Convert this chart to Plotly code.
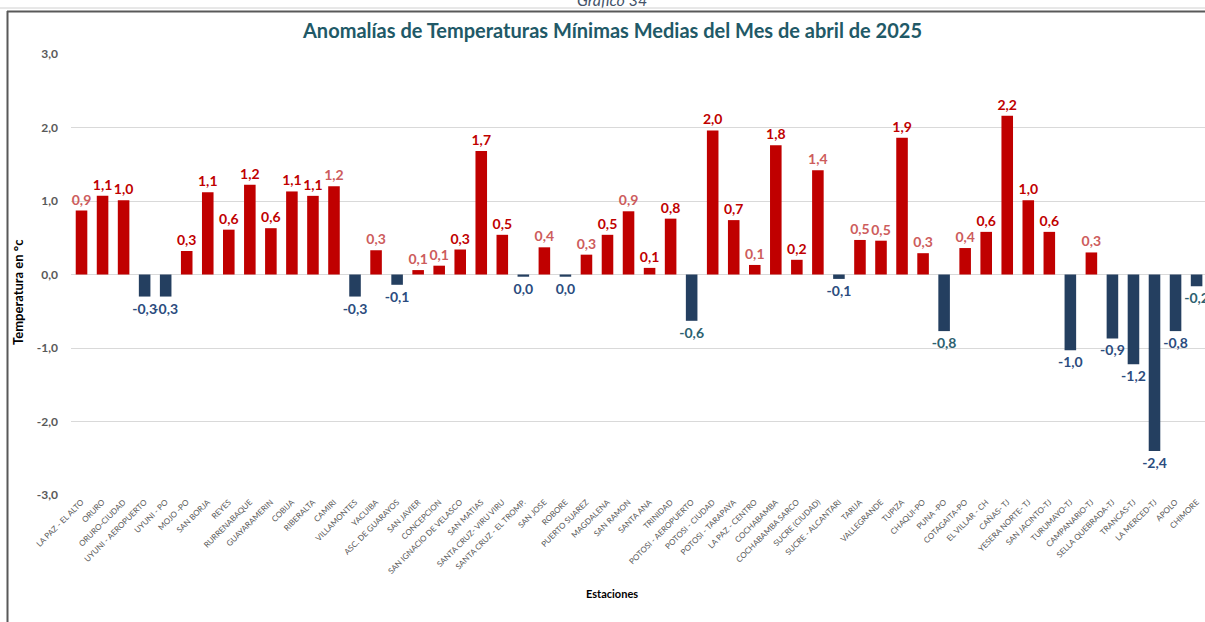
import plotly.graph_objects as go

# Estaciones y anomalías de temperatura mínima media (°C), abril 2025
estaciones = [
    "LA PAZ - EL ALTO", "ORURO", "ORURO-CIUDAD", "UYUNI - AEROPUERTO", "UYUNI - PO",
    "MOJO -PO", "SAN BORJA", "REYES", "RURRENABAQUE", "GUAYARAMERIN", "COBIJA",
    "RIBERALTA", "CAMIRI", "VILLAMONTES", "YACUIBA", "ASC. DE GUARAYOS", "SAN JAVIER",
    "CONCEPCION", "SAN IGNACIO DE VELASCO", "SAN MATIAS", "SANTA CRUZ- VIRU VIRU",
    "SANTA CRUZ - EL TROMP.", "SAN JOSE", "ROBORE", "PUERTO SUAREZ", "MAGDALENA",
    "SAN RAMON", "SANTA ANA", "TRINIDAD", "POTOSI - AEROPUERTO", "POTOSI - CIUDAD",
    "POTOSI - TARAPAYA", "LA PAZ - CENTRO", "COCHABAMBA", "COCHABAMBA SARCO",
    "SUCRE (CIUDAD)", "SUCRE - ALCANTARI", "TARIJA", "VALLEGRANDE", "TUPIZA",
    "CHAQUI-PO", "PUNA -PO", "COTAGAITA-PO", "EL VILLAR - CH", "CAÑAS- TJ",
    "YESERA NORTE- TJ", "SAN JACINTO-TJ", "TURUMAYO-TJ", "CAMPANARIO-TJ",
    "SELLA QUEBRADA-TJ", "TRANCAS-TJ", "LA MERCED-TJ", "APOLO", "CHIMORE",
]

anomalias = [
    0.87, 1.07, 1.01, -0.30, -0.30, 0.32, 1.12, 0.61, 1.22, 0.63, 1.13,
    1.07, 1.20, -0.30, 0.33, -0.14, 0.06, 0.12, 0.34, 1.68, 0.54,
    -0.03, 0.37, -0.03, 0.27, 0.54, 0.86, 0.09, 0.76, -0.63, 1.96,
    0.74, 0.13, 1.76, 0.20, 1.42, -0.06, 0.47, 0.46, 1.86,
    0.29, -0.77, 0.36, 0.58, 2.16, 1.01, 0.58, -1.03, 0.30,
    -0.87, -1.22, -2.40, -0.77, -0.16,
]

y_ticks = [3, 2, 1, 0, -1, -2, -3]
y_tick_text = ["3,0", "2,0", "1,0", "0,0", "-1,0", "-2,0", "-3,0"]

# estilos de etiqueta: 0 = rojo intenso, 1 = rojo claro, 2 = azul marino, 3 = azul verdoso
estilo_etiqueta = [
    1, 0, 0, 2, 2, 0, 0, 0, 0, 0, 0,
    0, 1, 2, 1, 2, 1, 1, 0, 0, 0,
    2, 1, 2, 1, 0, 1, 0, 0, 3, 0,
    0, 1, 0, 0, 1, 2, 1, 1, 0,
    1, 3, 1, 0, 0, 0, 0, 2, 1,
    2, 2, 2, 2, 3,
]
paleta_etiqueta = ["#C00000", "#CD5C5C", "#2B4C7E", "#2D6170"]


def fmt(v):
    s = f"{v:.1f}".replace(".", ",")
    return "0,0" if s == "-0,0" else s


textos = [fmt(v) for v in anomalias]
colores_barra = ["#C00000" if v >= 0 else "#243F60" for v in anomalias]
colores_texto = [paleta_etiqueta[e] for e in estilo_etiqueta]

W, H = 1205, 622
L, R, T, B = 71, 0, 54, 127
pw, ph = W - L - R, H - T - B


def px_x(x):
    return (x - L) / pw


def px_y(y):
    return (H - B - y) / ph


fig = go.Figure(
    go.Bar(
        x=list(range(len(estaciones))),
        y=anomalias,
        marker=dict(color=colores_barra, line=dict(width=0)),
        text=textos,
        textposition="outside",
        constraintext="none",
        textfont=dict(family="Lato", size=14, color=colores_texto, weight="bold"),
        cliponaxis=False,
        width=0.55,
        hoverinfo="skip",
    )
)

fig.update_layout(
    width=W,
    height=H,
    margin=dict(l=L, r=R, t=T, b=B),
    paper_bgcolor="white",
    plot_bgcolor="white",
    showlegend=False,
    font=dict(family="Lato"),
    xaxis=dict(
        tickmode="array",
        tickvals=list(range(len(estaciones))),
        ticktext=estaciones,
        tickangle=-45,
        tickfont=dict(family="Lato", size=8, color="#595959"),
        range=[-0.5, len(estaciones) - 0.6],
        showgrid=False,
        zeroline=False,
        showline=False,
        ticks="",
        fixedrange=True,
    ),
    yaxis=dict(
        range=[-3, 3],
        tickmode="array",
        tickvals=y_ticks,
        ticktext=y_tick_text,
        tickfont=dict(family="Lato", size=12, color="#595959", weight="bold"),
        showgrid=True,
        gridcolor="#D9D9D9",
        gridwidth=1,
        zeroline=False,
        showline=False,
        ticks="",
        ticklabelstandoff=12,
        fixedrange=True,
    ),
    annotations=[
        dict(
            text="<b>Anomalías de Temperaturas Mínimas Medias del Mes de abril de 2025</b>",
            xref="paper", yref="paper", x=px_x(612), y=px_y(30),
            xanchor="center", yanchor="middle", showarrow=False,
            font=dict(family="Lato", size=20, color="#215967"),
        ),
        dict(
            text="<i>Gráfico 34</i>",
            xref="paper", yref="paper", x=px_x(612), y=px_y(11),
            xanchor="center", yanchor="bottom", showarrow=False,
            font=dict(family="Lato", size=16, color="#44546A"),
        ),
        dict(
            text="<b>Temperatura en °c</b>",
            xref="paper", yref="paper", x=px_x(18), y=px_y(292),
            xanchor="center", yanchor="middle", showarrow=False, textangle=-90,
            font=dict(family="Lato", size=13, color="#000000"),
        ),
        dict(
            text="<b>Estaciones</b>",
            xref="paper", yref="paper", x=px_x(612), y=px_y(593),
            xanchor="center", yanchor="middle", showarrow=False,
            font=dict(family="Lato", size=11, color="#000000"),
        ),
    ],
    shapes=[
        # línea de cuadrícula de la hoja sobre el gráfico
        dict(type="line", xref="paper", yref="paper",
             x0=px_x(0), x1=px_x(W), y0=px_y(8), y1=px_y(8),
             line=dict(color="#D0D0D0", width=1)),
        # borde del área del gráfico
        dict(type="line", xref="paper", yref="paper",
             x0=px_x(7), x1=px_x(W + 5), y0=px_y(11.5), y1=px_y(11.5),
             line=dict(color="#595959", width=2)),
        dict(type="line", xref="paper", yref="paper",
             x0=px_x(7.5), x1=px_x(7.5), y0=px_y(11), y1=px_y(H + 5),
             line=dict(color="#595959", width=2)),
    ],
)

fig.write_html("out.html")
